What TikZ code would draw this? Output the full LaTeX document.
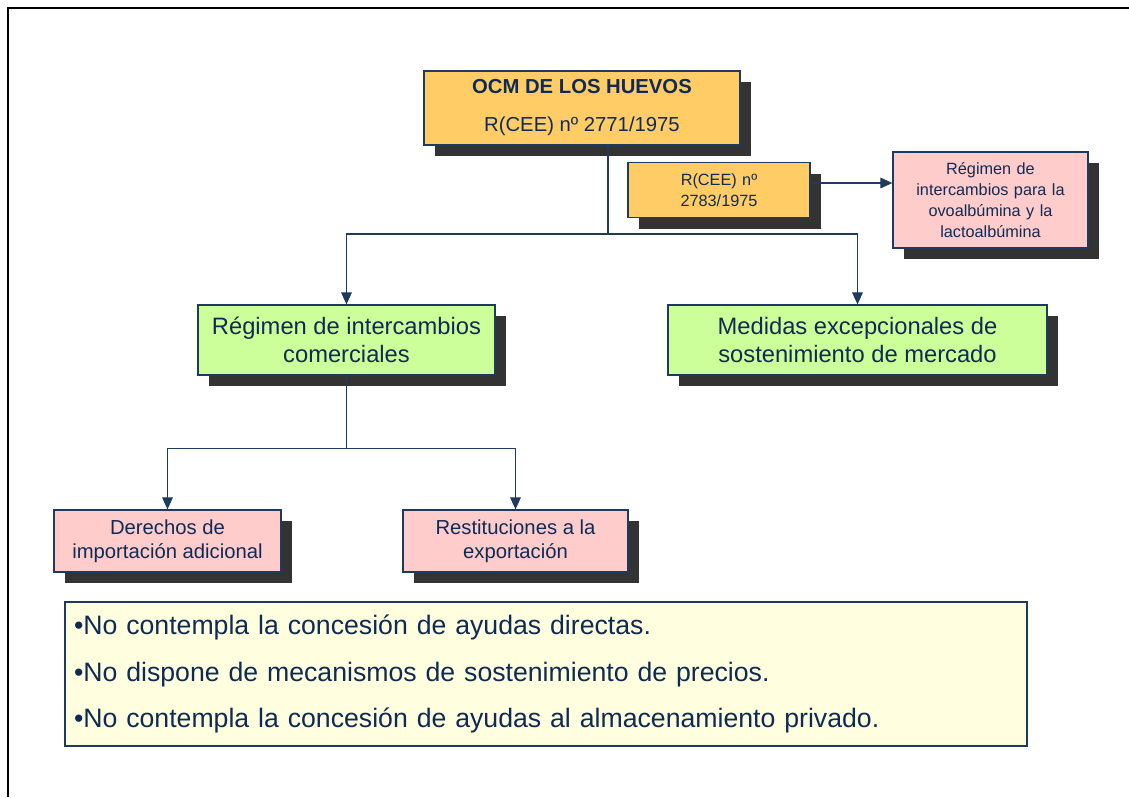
\documentclass[tikz,border=0pt]{standalone}
\usepackage{fontspec}
\setmainfont{Liberation Sans}
\usepackage{tikz}
\usetikzlibrary{arrows.meta,positioning,calc,shadows}
\definecolor{navy}{HTML}{1F3A5F}
\definecolor{inkx}{HTML}{0F2B55}
\definecolor{orangex}{HTML}{FFCC66}
\definecolor{pinkx}{HTML}{FFCCCC}
\definecolor{greenx}{HTML}{CCFF99}
\definecolor{notex}{HTML}{FFFFE0}
\definecolor{shadex}{HTML}{333333}

\begin{document}
\begin{tikzpicture}[x=0.75pt,y=-0.75pt,
  box/.style={draw=navy, line width=0.9pt, align=center, text=inkx, inner sep=2pt,
    drop shadow={shadow xshift=8.5pt, shadow yshift=-8.5pt, fill=shadex, opacity=1}},
  conn/.style={draw=navy, line width=0.8pt},
  arr/.style={conn, -{Triangle[length=9pt,width=8pt]}}]
\useasboundingbox (0,0) rectangle (1129,797);
% frame
\draw[line width=2pt] (1129,8) -- (8,8) -- (8,797);
% top boxes
\node[box, fill=orangex, minimum width=316*0.75pt, minimum height=74*0.75pt, font=\fontsize{15.2}{28.5}\selectfont] (ocm) at (582,108)
  {\textbf{OCM DE LOS HUEVOS}\\R(CEE) nº 2771/1975};
\node[box, fill=orangex, minimum width=182*0.75pt, minimum height=55*0.75pt, text width=130*0.75pt, font=\fontsize{12.2}{15.5}\selectfont] (reg) at (719,190)
  {R(CEE) nº\\2783/1975};
\node[box, fill=pinkx, minimum width=195*0.75pt, minimum height=96*0.75pt, text width=185*0.75pt, font=\fontsize{12.2}{15.7}\selectfont] (ovo) at (990.5,200)
  {Régimen de\\intercambios para la\\ovoalbúmina y la\\lactoalbúmina};
% second level
\node[box, fill=greenx, minimum width=297*0.75pt, minimum height=70*0.75pt, font=\fontsize{17.8}{21}\selectfont] (trade) at (346.5,340)
  {Régimen de intercambios\\comerciales};
\node[box, fill=greenx, minimum width=379*0.75pt, minimum height=70*0.75pt, font=\fontsize{17.8}{21}\selectfont] (market) at (857.5,340)
  {Medidas excepcionales de\\sostenimiento de mercado};
% third level
\node[box, fill=pinkx, minimum width=227*0.75pt, minimum height=62*0.75pt, font=\fontsize{15.2}{18}\selectfont] (duties) at (167.5,541)
  {Derechos de\\importación adicional};
\node[box, fill=pinkx, minimum width=225*0.75pt, minimum height=62*0.75pt, font=\fontsize{15.2}{18}\selectfont] (refunds) at (515.5,541)
  {Restituciones a la\\exportación};
% note
\node[draw=navy, line width=1.2pt, fill=notex, text=inkx, minimum width=962*0.75pt, minimum height=144*0.75pt,
  text width=944*0.75pt, align=left, font=\fontsize{20}{35}\selectfont] (note) at (546,674)
  {•No contempla la concesión de ayudas directas.\\
   •No dispone de mecanismos de sostenimiento de precios.\\
   •No contempla la concesión de ayudas al almacenamiento privado.};
% connectors
\coordinate (split1) at (608,234);
\draw[conn] (split1 |- ocm.south) -- (split1);
\draw[arr] (split1) -| (trade.north);
\draw[arr] (split1) -| (market.north);
\coordinate (regout) at ($(reg.east)+(0,-7)$);
\draw[arr] (regout) -- (ovo.west |- regout);
\coordinate (split2) at ($(trade.south)+(0,73)$);
\draw[conn] (trade.south) -- (split2);
\draw[arr] (split2) -| (duties.north);
\draw[arr] (split2) -| (refunds.north);
\end{tikzpicture}
\end{document}
